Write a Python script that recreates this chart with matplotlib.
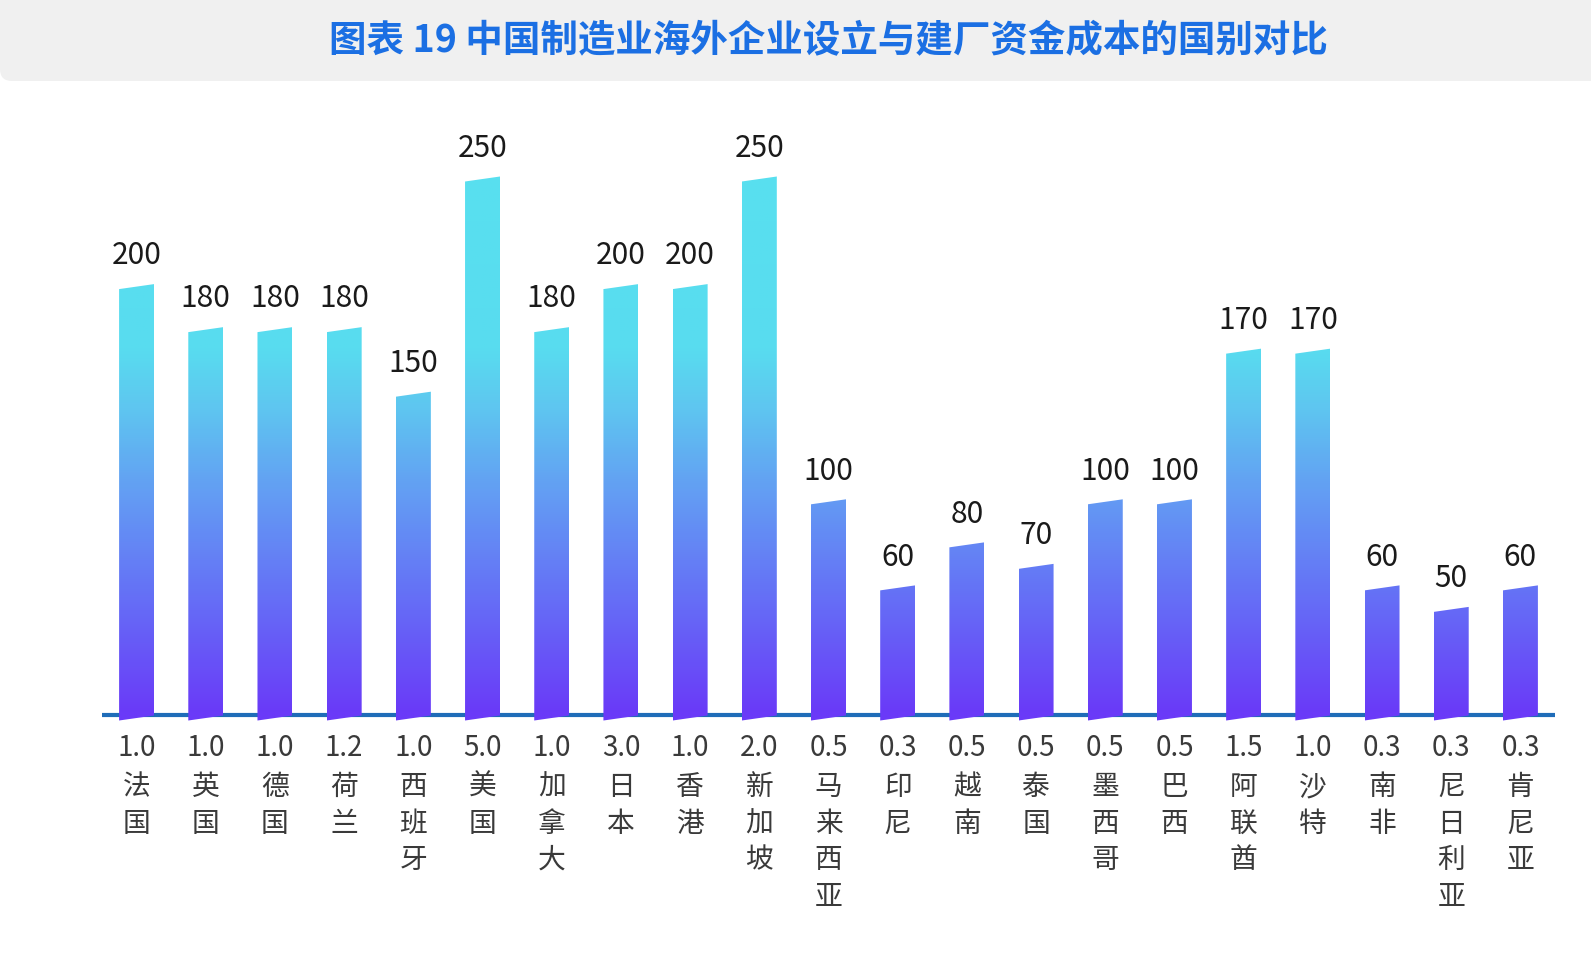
import numpy as np
import matplotlib
matplotlib.use('Agg')
import matplotlib.pyplot as plt
from matplotlib.patches import Polygon, FancyBboxPatch
from matplotlib.colors import LinearSegmentedColormap

plt.rcParams['font.family'] = ['Noto Sans CJK SC', 'DejaVu Sans']

title = '图表 19 中国制造业海外企业设立与建厂资金成本的国别对比'
countries = ['法国', '英国', '德国', '荷兰', '西班牙', '美国', '加拿大', '日本', '香港', '新加坡',
             '马来西亚', '印尼', '越南', '泰国', '墨西哥', '巴西', '阿联酋', '沙特', '南非', '尼日利亚', '肯尼亚']
cost = [200, 180, 180, 180, 150, 250, 180, 200, 200, 250,
        100, 60, 80, 70, 100, 100, 170, 170, 60, 50, 60]
ratio = ['1.0', '1.0', '1.0', '1.2', '1.0', '5.0', '1.0', '3.0', '1.0', '2.0',
         '0.5', '0.3', '0.5', '0.5', '0.5', '0.5', '1.5', '1.0', '0.3', '0.3', '0.3']

W, H = 1591, 954
fig = plt.figure(figsize=(W / 100, H / 100), dpi=100)

# title banner
banner = FancyBboxPatch((0, H - 82), W + 60, 140, boxstyle='round,pad=0,rounding_size=12',
                        transform=None, facecolor='#f0f0f0', edgecolor='none')
fig.patches.append(banner)
fig.text(828 / W, 1 - 41 / H, title, ha='center', va='center', fontsize=27,
         fontweight='bold', color='#1b6fe3')

# axes: baseline at 715.5 px, 2.152 px per unit
px_unit = 2.152
ymin, ymax = -8, 270
ax = fig.add_axes([102 / W, 1 - (715.5 - ymin * px_unit) / H, (1555 - 102) / W,
                   (ymax - ymin) * px_unit / H])
ax.axis('off')

cmap = LinearSegmentedColormap.from_list('bars', [
    (0.0, '#6a3af8'), (0.22, '#6570f6'), (0.42, '#639ff3'),
    (0.58, '#5ec8f0'), (0.68, '#58dcef'), (1.0, '#58e0f0')])

ax.axhline(0, color='#1f6cb8', lw=3, zorder=1)

hw = 17.5 / 69.2
slant = 5 / px_unit
drop = 1 / px_unit
grad = np.linspace(-10, 260, 300).reshape(-1, 1)
for i, v in enumerate(cost):
    poly = Polygon([(i - hw, v - slant), (i + hw, v), (i + hw, -drop), (i - hw, -drop - slant)],
                   closed=True, facecolor='none', edgecolor='none', transform=ax.transData)
    ax.add_patch(poly)
    im = ax.imshow(grad, extent=(i - hw, i + hw, -10, 260), origin='lower', aspect='auto',
                   cmap=cmap, vmin=0, vmax=250, zorder=2)
    im.set_clip_path(poly)
    ax.annotate(str(v), xy=(i, v), xytext=(0, 21), textcoords='offset points',
                ha='center', va='center', fontsize=21.5, color='#1a1a1a')
    ax.annotate(ratio[i], xy=(i, 0), xytext=(0, -23.5), textcoords='offset points',
                ha='center', va='center', fontsize=20, color='#3a3a3a', fontweight='light')
    for k, ch in enumerate(countries[i]):
        ax.annotate(ch, xy=(i, 0), xytext=(0, -51.5 - 26.3 * k), textcoords='offset points',
                    ha='center', va='center', fontsize=20, color='#3a3a3a', fontweight='light')

ax.set_xlim(-0.5, len(cost) - 0.5)
ax.set_ylim(ymin, ymax)

fig.savefig('out.png', dpi=100)
